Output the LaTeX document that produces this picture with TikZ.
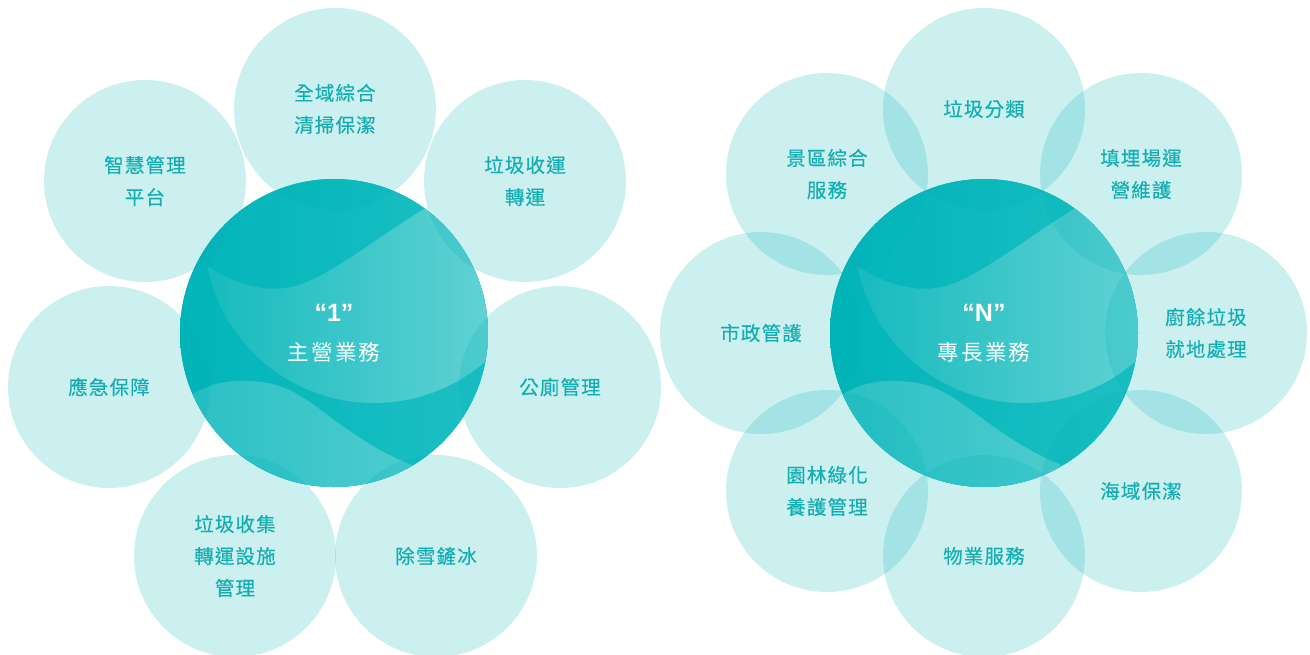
\documentclass[tikz,border=0pt]{standalone}
\usepackage{fontspec}
\newfontfamily\cjkfont[LetterSpace=6,FakeBold=0.4]{Noto Sans CJK TC}
\newfontfamily\corefont[LetterSpace=10]{Noto Sans CJK TC}
\newfontfamily\numfont{Liberation Sans}
\usetikzlibrary{positioning}

\definecolor{petalteal}{RGB}{0,178,182}
\definecolor{labelteal}{RGB}{20,174,178}
\definecolor{corea}{RGB}{0,180,184}
\definecolor{coreb}{RGB}{30,192,196}
\definecolor{lensa}{RGB}{14,184,188}
\definecolor{lensb}{RGB}{98,210,212}
\definecolor{lowa}{RGB}{40,192,196}
\definecolor{lowb}{RGB}{90,208,211}

\tikzset{
  petal/.style={circle, minimum size=202pt, inner sep=0pt, fill=petalteal,
    fill opacity=0.2, text opacity=1, text=labelteal, align=center,
    font=\cjkfont\fontsize{19.5}{32}\selectfont},
  corelabel/.style={align=center, text=white, inner sep=0pt},
}

% core circle with the wave bands, #1 = centre
\newcommand\drawcore[1]{%
  \begin{scope}[shift={#1}]
    \fill[corea] (0,0) circle (154);
    \clip (0,0) circle (154);
    \shade[left color=corea, right color=coreb] (-160,-160) rectangle (160,160);
    % light lens under the top wave
    \begin{scope}
      \clip (-170,-105) .. controls (-130,-60) and (-85,-40) .. (-48,-45)
        .. controls (-10,-50) and (40,-95) .. (100,-130)
        -- (170,-170) -- (170,170) -- (-170,170) -- cycle;
      \clip (40,-100) circle (170);
      \shade[left color=lensa, right color=lensb] (-160,-160) rectangle (160,160);
    \end{scope}
    % light band at the bottom
    \begin{scope}
      \clip (-170,80) .. controls (-130,50) and (-110,47) .. (-86,48)
        .. controls (-55,49) and (-40,58) .. (-20,72)
        .. controls (15,98) and (50,125) .. (100,140)
        -- (170,170) -- (-170,170) -- cycle;
      \shade[left color=lowa, right color=lowb] (-160,-160) rectangle (160,160);
    \end{scope}
  \end{scope}}

\begin{document}
\begin{tikzpicture}[x=1pt, y=-1pt]
\useasboundingbox (0,0) rectangle (1310,654);

\drawcore{(334,333)}
\drawcore{(984,333)}

% left flower: 7 petals
\foreach \n/\x/\y/\t in {
  a/335/109/{全域綜合\\清掃保潔},
  b/145/181/{智慧管理\\平台},
  c/525/181/{垃圾收運\\轉運},
  d/109/387/{應急保障},
  e/560/387/{公廁管理},
  f/235/556/{垃圾收集\\轉運設施\\管理},
  g/436/556/{除雪鏟冰}}
  \node[petal] (main-\n) at (\x,\y) {\t};

% right flower: 8 petals
\foreach \n/\x/\y/\t in {
  a/984/109/{垃圾分類},
  b/827/174/{景區綜合\\服務},
  c/1141/174/{填埋場運\\營維護},
  d/761/333/{市政管護},
  e/1206/333/{廚餘垃圾\\就地處理},
  f/827/491/{園林綠化\\養護管理},
  g/1141/491/{海域保潔},
  h/984/556/{物業服務}}
  \node[petal] (spec-\n) at (\x,\y) {\t};

\node[corelabel] (core-main) at (334,333)
  {{\numfont\bfseries\fontsize{25}{25}\selectfont “1”}\\[20pt]
   {\corefont\fontsize{21.5}{24}\selectfont 主營業務}};
\node[corelabel] (core-spec) at (984,333)
  {{\numfont\bfseries\fontsize{25}{25}\selectfont “N”}\\[20pt]
   {\corefont\fontsize{21.5}{24}\selectfont 專長業務}};
\end{tikzpicture}
\end{document}
